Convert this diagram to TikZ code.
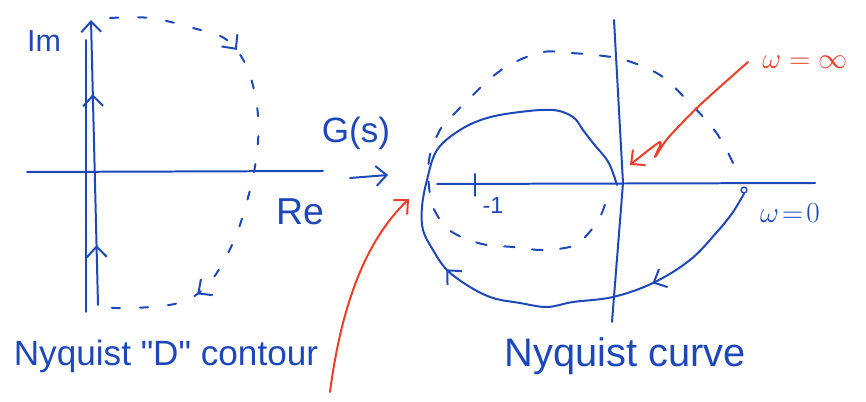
\documentclass[tikz,border=0pt]{standalone}
\usepackage{fontspec}
\setmainfont{Liberation Sans}
\usetikzlibrary{arrows.meta,decorations.markings}
\definecolor{inkblue}{RGB}{30,72,186}
\definecolor{inkred}{RGB}{236,62,40}
\tikzset{
  ink/.style={inkblue, line width=1.7pt, line cap=round, line join=round},
  redink/.style={inkred, line width=1.7pt, line cap=round, line join=round},
  sketchdash/.style={ink, dash pattern=on 9pt off 15pt},
  midarrow/.style={postaction={decorate, solid, decoration={markings, mark=at position #1 with {\arrow{>}}}}},
  lbl/.style={inkblue, inner sep=0pt},
}
\begin{document}
\begin{tikzpicture}[x=0.03cm, y=-0.03cm, >={Straight Barb[length=9pt,width=17pt]}]
    \useasboundingbox (0,0) rectangle (866,402);
    % s-plane and the D contour
    \draw [ink] (27,172) -- (323,171);
    \draw [ink] (86,312) -- (86,40);
    \draw [ink, ->, midarrow=0.21, midarrow=0.74] (98,305) -- (91,20);
    \draw [sketchdash, dash pattern=on 7pt off 17pt, midarrow=0.27, midarrow=0.8] plot [smooth, tension=0.6] coordinates
        {(110,18) (150,18) (193,28) (227,40) (248,70) (258,115) (256,160) (246,205) (232,245) (210,282) (182,302) (135,308) (100,307)};
    \node [lbl, font=\fontsize{26}{28}\selectfont] (im) at (44,41) {Im};
    \node [lbl, font=\fontsize{32}{34}\selectfont] (re) at (300,212) {Re};
    \node [lbl, font=\fontsize{30}{32}\selectfont] (dlabel) at (166,356) {Nyquist \textquotedbl D\textquotedbl\ contour};
    % mapping arrow
    \node [lbl, font=\fontsize{30}{32}\selectfont] (gs) at (356,133) {G(s)};
    \coordinate (gsfrom) at (350,178);
    \coordinate (gsto) at (388,175);
    \draw [ink, ->] (gsfrom) -- (gsto);
    % G-plane
    \draw [ink] (437,184) -- (815,183);
    \draw [ink] (614,20) -- (623,183) -- (612,322);
    \draw [ink] (475,174) -- (475,196);
    \node [lbl, font=\fontsize{20}{22}\selectfont] (minusone) at (493,205) {-1};
    \node [circle, draw=inkblue, line width=1.2pt, inner sep=0pt, minimum size=5pt] (wzeropt) at (744,190) {};
    \draw [ink, midarrow=0.184, midarrow=0.493] plot [smooth, tension=0.6] coordinates
        {(wzeropt.south) (733,212) (717,232) (690,260) (653,283) (613,297) (573,302) (547,307) (520,303) (493,298) (470,287) (447,270) (433,250) (423,230) (422,207) (427,180) (437,150) (460,130) (487,118) (520,112) (553,110) (573,117) (583,130) (593,143) (607,160) (613,173) (617,185)};
    \draw [sketchdash] plot [smooth, tension=0.6] coordinates
        {(733,163) (725,147) (712,127) (685,98) (660,75) (625,60) (595,55) (570,53) (543,52) (513,63) (492,77) (473,95) (455,113) (440,130) (429,160) (430,195) (437,215) (452,232) (482,244) (513,247) (543,250) (573,246) (587,235) (600,217) (607,198)};
    \node [lbl, font=\fontsize{26}{28}\selectfont] (wzero) at (790,213) {$\omega\!=\!0$};
    \node [lbl, inkred, font=\fontsize{26}{28}\selectfont] (winf) at (805,62) {$\omega=\infty$};
    \node [lbl, font=\fontsize{34}{36}\selectfont] (clabel) at (625,356) {Nyquist curve};
    % red pointers
    \coordinate (winftail) at (748,62);
    \coordinate (winftip) at (630,165);
    \draw [redink, ->] plot [smooth, tension=0.5] coordinates
        {(winftail) (700,105) (668,138) (655,157) (660,142) (winftip)};
    \coordinate (lowtail) at (330,392);
    \coordinate (lowtip) at (409,199);
    \draw [redink, ->] (lowtail) .. controls (342,300) and (368,238) .. (lowtip);
\end{tikzpicture}
\end{document}
